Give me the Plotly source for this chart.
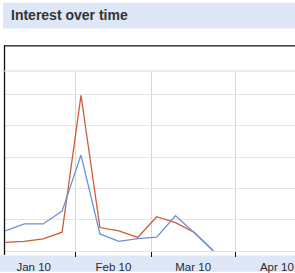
import plotly.graph_objects as go

weeks = ["2010-01-06", "2010-01-13", "2010-01-20", "2010-01-27", "2010-02-03",
         "2010-02-10", "2010-02-17", "2010-02-24", "2010-03-03", "2010-03-10",
         "2010-03-17", "2010-03-24"]
series_red = [5.5, 6.1, 7.8, 12.0, 99.5, 15.0, 12.8, 8.7, 21.9, 18.1, 11.8, 0]
series_blue = [12.8, 17.3, 17.3, 25.5, 61.3, 10.9, 6.1, 7.9, 8.8, 22.5, 11.5, 0]
grid_vals = [20, 40, 60, 80, 100]
title_text = "Interest over time"

W, H = 295, 273
L, T, B = 4, 71, 253  # plot area pixel bounds


def xp(px):
    return (px - L) / (W - L)


def yp(py):
    return (B - py) / (B - T)


fig = go.Figure()
fig.add_trace(go.Scatter(x=weeks, y=series_red, mode="lines",
                         line=dict(color="#cf5b35", width=1.3), name="red"))
fig.add_trace(go.Scatter(x=weeks, y=series_blue, mode="lines",
                         line=dict(color="#6b93d8", width=1.3), name="blue"))

band = "#dde7f6"
shapes = [
    dict(type="rect", xref="paper", yref="paper", x0=xp(3), x1=xp(296), y0=yp(28), y1=yp(2),
         fillcolor=band, line=dict(width=0), layer="below"),
    dict(type="rect", xref="paper", yref="paper", x0=xp(0), x1=xp(296), y0=yp(274), y1=yp(257.5),
         fillcolor=band, line=dict(width=0), layer="below"),
    dict(type="line", xref="paper", yref="paper", x0=xp(4), x1=xp(297), y0=yp(45.5), y1=yp(45.5),
         line=dict(color="#111", width=1.3)),
    dict(type="line", xref="paper", yref="paper", x0=xp(4.5), x1=xp(4.5), y0=yp(45), y1=yp(257),
         line=dict(color="#111", width=1.3)),
    dict(type="line", xref="paper", yref="paper", x0=0, x1=1, y0=1, y1=1,
         line=dict(color="#dcdcdc", width=1)),
]

fig.update_layout(
    width=W, height=H,
    margin=dict(l=L, r=0, t=T, b=H - B),
    paper_bgcolor="white", plot_bgcolor="white",
    showlegend=False,
    shapes=shapes,
    title=dict(text="<b>" + title_text + "</b>", xref="container", yref="container",
               x=11 / W, xanchor="left", y=1 - 15.5 / H, yanchor="middle",
               font=dict(family="Liberation Sans, Arial", size=14, color="#333333")),
    xaxis=dict(type="date", range=["2010-01-05 12:00", "2010-04-23 05:00"],
               tick0="2010-01-01", dtick="M1", ticklabelmode="period", tickformat="%b %y",
               ticks="outside", ticklen=5, tickcolor="#111", tickwidth=1,
               showgrid=True, gridcolor="#d6d6d6", gridwidth=1,
               showline=False, zeroline=False,
               tickfont=dict(family="Liberation Sans, Arial", size=11.5, color="#2a2a2a")),
    yaxis=dict(range=[0, 115], tickvals=grid_vals, showticklabels=False,
               showgrid=True, gridcolor="#e4e4e4", gridwidth=1,
               zeroline=True, zerolinecolor="#e0e0e0", zerolinewidth=1,
               ticks="", fixedrange=True),
)

fig.write_html("out.html")
